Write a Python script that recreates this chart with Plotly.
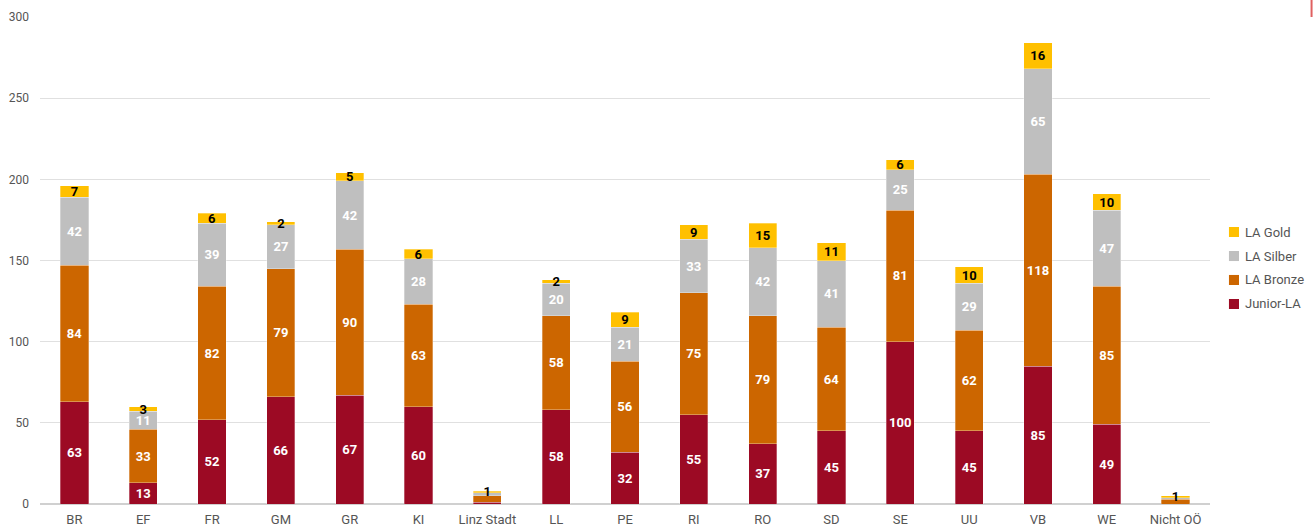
import plotly.graph_objects as go

categories = ["BR", "EF", "FR", "GM", "GR", "KI", "Linz Stadt", "LL", "PE", "RI",
              "RO", "SD", "SE", "UU", "VB", "WE", "Nicht OÖ"]
junior_la = [63, 13, 52, 66, 67, 60, 1, 58, 32, 55, 37, 45, 100, 45, 85, 49, 0]
la_bronze = [84, 33, 82, 79, 90, 63, 4, 58, 56, 75, 79, 64, 81, 62, 118, 85, 3]
la_silber = [42, 11, 39, 27, 42, 28, 2, 20, 21, 33, 42, 41, 25, 29, 65, 47, 1]
la_gold = [7, 3, 6, 2, 5, 6, 1, 2, 9, 9, 15, 11, 6, 10, 16, 10, 1]

y_ticks = [0, 50, 100, 150, 200, 250, 300]

series = [
    ("Junior-LA", junior_la, "#9C0A24", "white", 5),
    ("LA Bronze", la_bronze, "#CC6600", "white", 5),
    ("LA Silber", la_silber, "#BFBFBF", "white", 5),
    ("LA Gold", la_gold, "#FFC000", "black", 1),
]

fig = go.Figure()
for name, vals, color, tcolor, minv in series:
    texts = [str(v) if v >= minv else "" for v in vals]
    fig.add_trace(go.Bar(
        name=name, x=categories, y=vals, showlegend=False,
        marker=dict(color=color, line=dict(width=0.5, color="rgba(255,255,255,0.6)")),
        text=texts, texttemplate="%{text}", textposition="inside", textangle=0,
        insidetextanchor="middle", constraintext="none",
        textfont=dict(family="Roboto", size=13, color=tcolor, weight="bold"),
        hoverinfo="x+y+name",
    ))

# custom legend (Gold on top)
shapes = []
annotations = []
leg_y = [0.4107, 0.4600, 0.5092, 0.5585]  # Junior, Bronze, Silber, Gold
for (name, _, color, _, _), yc in zip(series, leg_y):
    shapes.append(dict(type="rect", xref="paper", yref="paper",
                       x0=1.0162, x1=1.0248, y0=yc - 0.0103, y1=yc + 0.0103,
                       fillcolor=color, line=dict(width=0)))
    annotations.append(dict(xref="paper", yref="paper", x=1.0282, y=yc,
                            xanchor="left", yanchor="middle", text=name, showarrow=False,
                            font=dict(family="Roboto", size=13, color="#555555")))
shapes.append(dict(type="line", xref="paper", yref="paper", x0=1.0868, x1=1.0868,
                   y0=1.035, y1=1.0, line=dict(color="#E06060", width=2)))

fig.update_layout(
    barmode="stack",
    bargap=0.59,
    width=1313, height=529,
    margin=dict(l=40, r=103, t=17, b=25, autoexpand=False),
    paper_bgcolor="white", plot_bgcolor="white",
    font=dict(family="Roboto", size=13, color="#555555"),
    showlegend=False,
    xaxis=dict(showgrid=False, showline=False, ticks="", ticklabelstandoff=6,
               tickfont=dict(size=13, color="#555555")),
    yaxis=dict(range=[0, 300], tickvals=y_ticks, showgrid=True, gridcolor="#E0E0E0",
               gridwidth=1, zeroline=True, zerolinecolor="#D0D0D0", ticks="",
               ticklabelstandoff=10, tickfont=dict(size=12, color="#555555")),
    shapes=shapes,
    annotations=annotations,
)

fig.write_html("out.html")
